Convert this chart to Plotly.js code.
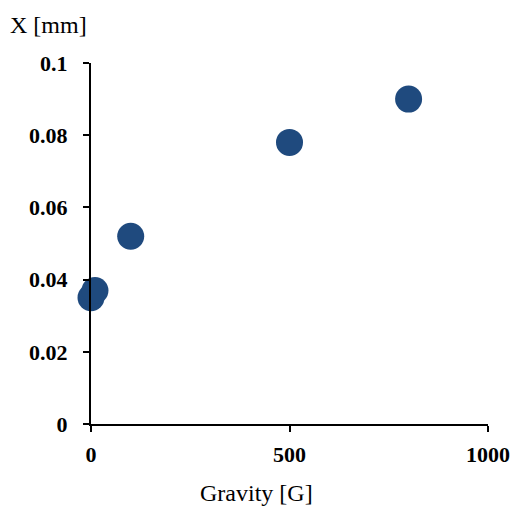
<!DOCTYPE html>
<html>
<head>
<meta charset="utf-8">
<script src="https://cdn.plot.ly/plotly-3.0.1.min.js"></script>
<style>html,body{margin:0;padding:0;background:#fff;}#chart{width:514px;height:510px;}</style>
</head>
<body>
<div id="chart"></div>
<script>
const gravity = [0, 10, 100, 500, 800];
const displacement = [0.035, 0.037, 0.052, 0.078, 0.090];
const xTicks = [0, 500, 1000];
const yTicks = [0, 0.02, 0.04, 0.06, 0.08, 0.1];
const yTickText = ['0', '0.02', '0.04', '0.06', '0.08', '0.1'];

const font = 'Liberation Serif, Times New Roman, serif';
const data = [{
  x: gravity, y: displacement, type: 'scatter', mode: 'markers',
  marker: {size: 27, color: '#1F4A7E'}, cliponaxis: false
}];
const layout = {
  width: 514, height: 510,
  margin: {l: 91, r: 26, t: 63, b: 86},
  paper_bgcolor: '#fff', plot_bgcolor: '#fff',
  showlegend: false,
  font: {family: font, color: '#000', size: 22},
  xaxis: {
    range: [0, 1000], tickvals: xTicks, ticktext: xTicks.map(String),
    showgrid: false, zeroline: false, showline: true, linecolor: '#000', linewidth: 2,
    ticks: 'outside', ticklen: 6, tickwidth: 2, tickcolor: '#000',
    tickfont: {family: font, size: 22, color: '#000', weight: 'bold'}, ticklabelstandoff: 4
  },
  yaxis: {
    range: [0, 0.1], tickvals: yTicks, ticktext: yTickText,
    showgrid: false, zeroline: false, showline: true, linecolor: '#000', linewidth: 2,
    ticks: 'outside', ticklen: 6, tickwidth: 2, tickcolor: '#000',
    tickfont: {family: font, size: 22, color: '#000', weight: 'bold'}, ticklabelstandoff: 11
  },
  annotations: [
    {text: 'X [mm]', xref: 'paper', yref: 'paper', x: -0.21, y: 1.105, xanchor: 'left', yanchor: 'middle', showarrow: false, font: {family: font, size: 24, color: '#000'}},
    {text: 'Gravity [G]', xref: 'paper', yref: 'paper', x: 0.418, y: -0.19, xanchor: 'center', yanchor: 'middle', showarrow: false, font: {family: font, size: 24, color: '#000'}}
  ]
};
Plotly.newPlot('chart', data, layout, {displayModeBar: false, staticPlot: true});
</script>
</body>
</html>
